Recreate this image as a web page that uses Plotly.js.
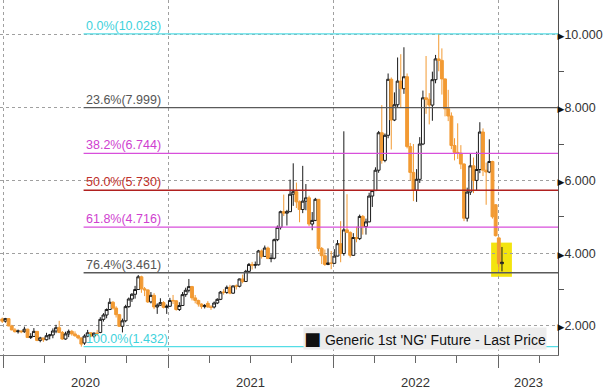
<!DOCTYPE html>
<html><head><meta charset="utf-8">
<script src="https://cdn.plot.ly/plotly-3.0.1.min.js"></script>
<style>html,body{margin:0;padding:0;background:#fff}#chart{width:605px;height:390px}</style>
</head><body><div id="chart"></div>
<script>
// Weekly candles (week starting Monday)
const weeks = [
'2019-12-30',
'2020-01-06','2020-01-13','2020-01-20','2020-01-27','2020-02-03','2020-02-10','2020-02-17','2020-02-24',
'2020-03-02','2020-03-09','2020-03-16','2020-03-23','2020-03-30','2020-04-06','2020-04-13','2020-04-20','2020-04-27',
'2020-05-04','2020-05-11','2020-05-18','2020-05-25','2020-06-01','2020-06-08','2020-06-15','2020-06-22','2020-06-29',
'2020-07-06','2020-07-13','2020-07-20','2020-07-27','2020-08-03','2020-08-10','2020-08-17','2020-08-24','2020-08-31',
'2020-09-07','2020-09-14','2020-09-21','2020-09-28','2020-10-05','2020-10-12','2020-10-19','2020-10-26',
'2020-11-02','2020-11-09','2020-11-16','2020-11-23','2020-11-30','2020-12-07','2020-12-14','2020-12-21','2020-12-28',
'2021-01-04','2021-01-11','2021-01-18','2021-01-25','2021-02-01','2021-02-08','2021-02-15','2021-02-22',
'2021-03-01','2021-03-08','2021-03-15','2021-03-22','2021-03-29','2021-04-05','2021-04-12','2021-04-19','2021-04-26',
'2021-05-03','2021-05-10','2021-05-17','2021-05-24','2021-05-31','2021-06-07','2021-06-14','2021-06-21','2021-06-28',
'2021-07-05','2021-07-12','2021-07-19','2021-07-26','2021-08-02','2021-08-09','2021-08-16','2021-08-23','2021-08-30',
'2021-09-06','2021-09-13','2021-09-20','2021-09-27','2021-10-04','2021-10-11','2021-10-18','2021-10-25',
'2021-11-01','2021-11-08','2021-11-15','2021-11-22','2021-11-29','2021-12-06','2021-12-13','2021-12-20','2021-12-27',
'2022-01-03','2022-01-10','2022-01-17','2022-01-24','2022-01-31','2022-02-07','2022-02-14','2022-02-21','2022-02-28',
'2022-03-07','2022-03-14','2022-03-21','2022-03-28','2022-04-04','2022-04-11','2022-04-18','2022-04-25',
'2022-05-02','2022-05-09','2022-05-16','2022-05-23','2022-05-30','2022-06-06','2022-06-13','2022-06-20','2022-06-27',
'2022-07-04','2022-07-11','2022-07-18','2022-07-25','2022-08-01','2022-08-08','2022-08-15','2022-08-22','2022-08-29',
'2022-09-05','2022-09-12','2022-09-19','2022-09-26','2022-10-03','2022-10-10','2022-10-17','2022-10-24','2022-10-31',
'2022-11-07','2022-11-14','2022-11-21','2022-11-28','2022-12-05','2022-12-12','2022-12-19','2022-12-26',
'2023-01-02','2023-01-09'
];
const openP = [
2.19,
2.13,2.20,2.00,1.89,1.84,1.86,1.84,1.91,1.68,1.71,1.85,1.60,1.67,1.62,1.73,1.75,1.86,1.95,1.82,1.64,1.78,1.85,1.78,1.73,1.67,
1.53,1.72,1.81,1.72,1.80,1.82,2.18,2.30,2.45,2.65,2.49,2.31,1.99,2.14,2.53,2.74,2.87,3.00,3.35,3.02,2.99,2.66,2.84,2.52,2.57,2.64,2.51,
2.54,2.70,2.69,2.45,2.56,2.86,2.98,3.08,2.77,2.70,2.60,2.53,2.62,2.52,2.52,2.63,2.73,2.93,2.92,3.06,2.90,3.10,3.09,3.29,3.22,3.50,
3.69,3.67,3.68,4.06,3.91,4.14,3.85,3.86,4.37,4.71,5.14,5.10,5.14,5.62,5.69,5.41,5.20,5.43,5.52,4.80,4.90,5.48,4.13,3.93,3.69,3.73,
3.72,3.92,4.26,3.99,4.64,4.57,3.94,4.43,4.40,5.01,4.73,4.86,5.57,5.72,6.28,7.31,6.55,7.24,8.78,7.66,8.08,8.73,8.52,8.85,6.93,6.22,
5.73,6.03,7.00,8.27,8.23,8.07,8.77,9.34,9.30,8.79,7.97,7.77,6.96,6.77,6.75,6.45,4.96,5.68,6.40,6.00,6.30,7.33,6.28,6.23,6.52,5.33,
4.42,3.71
];
const highP = [
2.23,
2.22,2.21,2.03,1.94,1.90,1.87,1.98,1.92,1.80,1.94,1.85,1.70,1.67,1.81,1.78,1.93,2.03,2.14,1.86,1.84,1.90,1.89,1.85,1.76,1.68,
1.77,1.89,1.83,1.82,1.89,2.24,2.35,2.48,2.76,2.68,2.54,2.33,2.20,2.58,2.78,2.90,3.10,3.40,3.38,3.07,3.00,2.93,2.90,2.62,2.76,2.68,2.59,
2.77,2.85,2.71,2.65,2.93,3.05,3.29,3.10,2.85,2.72,2.62,2.60,2.68,2.57,2.67,2.76,2.96,3.01,3.11,3.13,3.10,3.14,3.30,3.41,3.54,3.73,
3.76,3.77,4.09,4.10,4.21,4.18,3.97,4.40,4.76,5.17,5.61,5.19,6.02,6.47,5.94,5.45,6.40,5.90,5.58,5.13,5.52,5.48,4.17,4.10,4.13,4.06,
4.11,4.36,4.88,7.35,5.62,4.60,4.55,4.73,5.06,5.05,4.95,5.66,5.73,6.36,7.36,8.07,7.29,8.94,8.83,8.42,9.38,9.47,9.66,8.94,7.03,7.00,
6.31,7.19,8.47,9.42,8.40,8.99,9.45,10.03,9.63,8.80,8.49,7.87,7.16,7.57,6.97,6.47,5.80,6.75,6.63,6.79,7.60,7.43,6.49,7.13,6.54,5.35,
4.45,4.17
];
const lowP = [
2.08,
2.09,1.99,1.88,1.82,1.79,1.80,1.81,1.68,1.64,1.70,1.58,1.55,1.56,1.60,1.63,1.66,1.80,1.80,1.62,1.62,1.69,1.73,1.70,1.63,1.43,
1.48,1.69,1.69,1.67,1.72,1.80,2.12,2.21,2.44,2.45,2.23,1.97,1.82,2.10,2.50,2.66,2.75,2.99,2.91,2.82,2.63,2.62,2.46,2.33,2.55,2.48,2.33,
2.52,2.60,2.42,2.41,2.55,2.80,2.92,2.70,2.62,2.53,2.47,2.48,2.50,2.44,2.48,2.60,2.71,2.86,2.88,2.87,2.88,3.00,3.06,3.17,3.22,3.47,
3.55,3.58,3.66,3.85,3.90,3.84,3.75,3.83,4.33,4.65,5.02,4.76,5.13,5.30,5.24,4.85,5.10,5.18,4.74,4.63,4.88,4.05,3.70,3.65,3.67,3.56,
3.70,3.91,3.75,3.93,4.55,3.88,3.93,4.30,4.36,4.51,4.51,4.85,5.27,5.71,6.21,6.46,6.50,7.16,6.85,7.63,8.00,7.99,8.38,6.88,6.00,5.43,
5.41,5.93,6.97,7.83,7.54,7.64,8.67,9.00,8.36,7.76,7.63,6.86,6.55,6.59,6.31,4.88,4.87,5.60,5.65,5.72,6.20,6.12,5.33,6.20,4.95,4.46,
3.53,3.50
];
const closeP = [
2.13,
2.20,2.00,1.89,1.84,1.86,1.84,1.91,1.68,1.71,1.85,1.60,1.67,1.62,1.73,1.75,1.86,1.95,1.82,1.64,1.78,1.85,1.78,1.73,1.67,1.50,
1.72,1.81,1.72,1.80,1.79,2.18,2.30,2.45,2.65,2.49,2.31,1.99,2.14,2.53,2.74,2.87,3.00,3.35,3.02,2.99,2.66,2.84,2.52,2.57,2.64,2.51,2.54,
2.70,2.69,2.45,2.56,2.86,2.98,3.08,2.77,2.70,2.60,2.53,2.56,2.52,2.51,2.63,2.73,2.93,2.92,3.06,2.90,3.10,3.09,3.29,3.22,3.50,3.69,
3.67,3.68,4.06,3.91,4.14,3.85,3.86,4.37,4.71,5.14,5.10,5.14,5.62,5.69,5.41,5.20,5.43,5.52,4.80,4.90,5.48,4.13,3.93,3.69,3.73,3.72,
3.92,4.26,3.99,4.64,4.57,3.94,4.43,4.40,5.01,4.73,4.86,5.57,5.72,6.28,7.31,6.55,7.24,8.78,7.66,8.08,8.73,8.52,8.85,6.93,6.22,5.73,
6.03,7.00,8.27,8.23,8.07,8.77,9.34,9.30,8.79,7.97,7.77,6.96,6.77,6.75,6.45,4.96,5.68,6.40,6.00,6.30,7.33,6.28,6.23,6.52,5.00,4.48,
3.71,3.75
];

// Fibonacci retracement levels (from 1.432 low to 10.028 high)
const fibPct = ['0.0%','23.6%','38.2%','50.0%','61.8%','76.4%','100.0%'];
const fibLevels = [10.028, 7.999, 6.744, 5.730, 4.716, 3.461, 1.432];
const fibStart = '2020-06-27';

const yearLabels = ['2020','2021','2022','2023'];
const legendText = "Generic 1st 'NG' Future - Last Price";

// styles
const fibLineColors = ['#55dde6','#5a5a5a','#d84fdb','#b0201f','#d84fdb','#5a5a5a','#55dde6'];
const fibTextColors = ['#3fd2dc','#555555','#cf3fd0','#c0302a','#cf3fd0','#555555','#3fd2dc'];
const yearLabelX = ['2020-07-01','2021-07-02','2022-07-02','2023-03-08'];
const xRange = ['2019-12-25','2023-05-13'];
const FONT = 'Liberation Sans, Arial, sans-serif';

const trace = {
  type:'candlestick', x:weeks, open:openP, high:highP, low:lowP, close:closeP,
  increasing:{line:{color:'#1a1a1a', width:1}, fillcolor:'#ffffff'},
  decreasing:{line:{color:'#f29a33', width:1}, fillcolor:'#f29a33'},
  whiskerwidth:0, showlegend:false, hoverinfo:'skip'
};

const shapes = [{
  type:'rect', xref:'x', yref:'y', x0:'2022-12-16', x1:'2023-01-31', y0:3.35, y1:4.29,
  fillcolor:'#f3e40f', line:{width:0}, layer:'below'
}];
const annotations = [];
fibLevels.forEach((lv,i)=>{
  shapes.push({type:'line', xref:'x', yref:'y', x0:fibStart, x1:xRange[1], y0:lv, y1:lv,
    line:{color:fibLineColors[i], width:1.3}, layer:'above'});
  annotations.push({xref:'x', yref:'y', x:fibStart, y:lv, xanchor:'left', yanchor:'bottom',
    text: fibPct[i] + '(' + lv.toFixed(3) + ')', showarrow:false, borderpad:0, xshift:1, yshift:0,
    font:{family:FONT, size:12.5, color:fibTextColors[i]}});
});
yearLabels.forEach((t,i)=>{
  annotations.push({xref:'x', yref:'paper', x:yearLabelX[i], y:0, yanchor:'top', xanchor:'center',
    yshift:-18, text:t, showarrow:false, font:{family:FONT, size:13, color:'#333'}});
});
annotations.push({xref:'paper', yref:'paper', x:425/558, y:(355-338.5)/355, xanchor:'center', yanchor:'middle',
  text:"<span style='font-family:DejaVu Sans;font-size:18px'>■</span> " + legendText, showarrow:false, bgcolor:'#ececec', borderpad:0,
  font:{family:FONT, size:14, color:'#111'}});

const layout = {
  width:605, height:390, margin:{l:0, r:47, t:0, b:35},
  paper_bgcolor:'#ffffff', plot_bgcolor:'#ffffff', showlegend:false,
  boxgap:0.05, boxgroupgap:0.05,
  xaxis:{type:'date', range:xRange, rangeslider:{visible:false}, fixedrange:true,
    showgrid:true, gridcolor:'#a0a0a0', griddash:'dot', gridwidth:1,
    tick0:'2020-01-01', dtick:'M12', ticks:'outside', ticklen:12, tickcolor:'#666', showticklabels:false,
    showline:true, linecolor:'#777', linewidth:1, zeroline:false,
    minor:{tick0:'2020-01-01', dtick:'M3', ticks:'outside', ticklen:7, tickcolor:'#666', showgrid:false}},
  yaxis:{side:'right', range:[1.2,10.96], tick0:0, dtick:2, tickformat:'.3f',
    tickprefix:"<span style='font-family:DejaVu Sans;font-size:9px;fill:#111'>▶</span>",
    ticklabelstandoff:-4,
    ticks:'', showgrid:true, gridcolor:'#a0a0a0', griddash:'dot', gridwidth:1,
    showline:true, linecolor:'#555', linewidth:1, zeroline:false, fixedrange:true,
    tickfont:{family:FONT, size:12.5, color:'#333'},
    minor:{tick0:0, dtick:1, ticks:'outside', ticklen:5, tickcolor:'#555', showgrid:false}},
  shapes:shapes, annotations:annotations
};
Plotly.newPlot('chart', [trace], layout, {staticPlot:true, displayModeBar:false});
</script></body></html>
